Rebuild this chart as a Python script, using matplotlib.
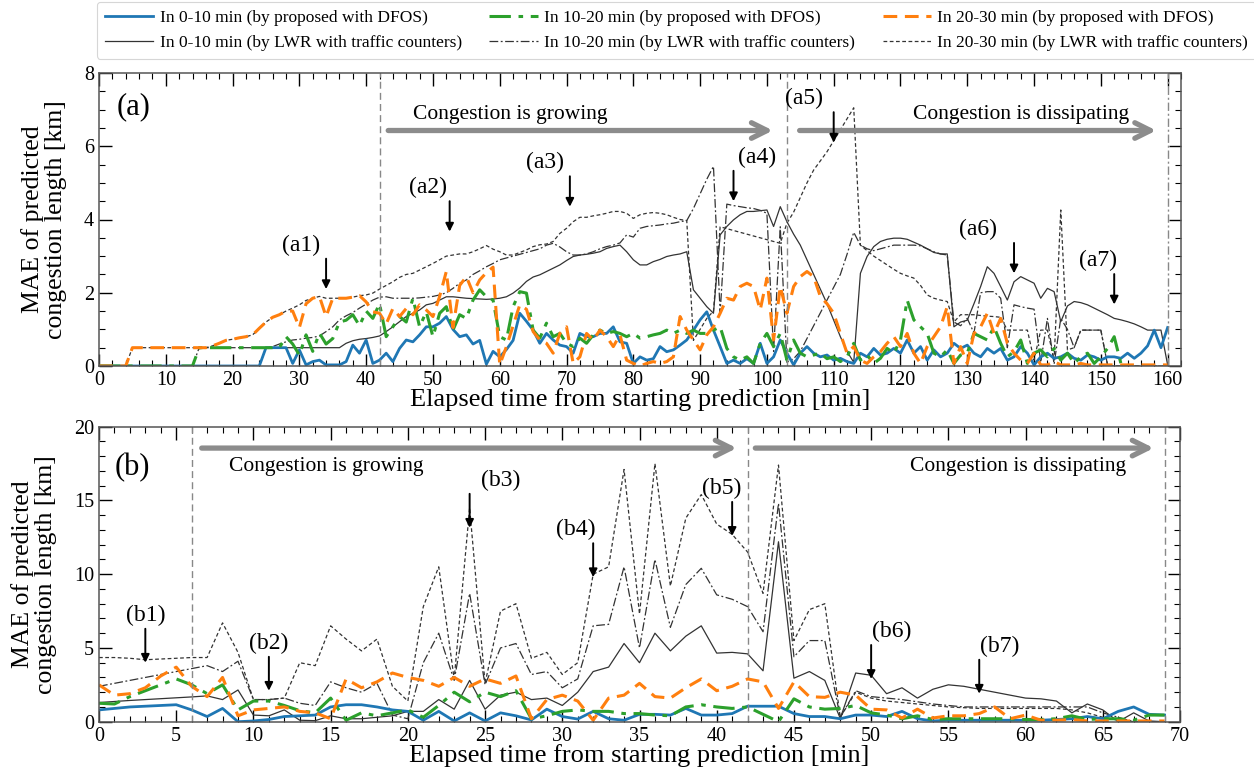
import numpy as np
import matplotlib
matplotlib.use("Agg")
import matplotlib.pyplot as plt
from matplotlib.ticker import MultipleLocator

plt.rcParams['font.family'] = ['Liberation Serif', 'DejaVu Serif']
plt.rcParams['mathtext.fontset'] = 'stix'

nan = np.nan

# ---------------- case (a): 1-min steps, 0..160 min ----------------
t_a = np.arange(0, 161)

dfos_0_10_a = [
    0, 0, 0, 0, 0, 0, 0, 0, 0, 0,
    0, 0, 0, 0, 0, 0, 0, 0, 0, 0,
    0, 0, 0, 0, 0, 0.5, 0.5, 0.5, 0.5, 0.07,
    0.44, 0.03, 0.12, 0.16, 0.03, 0.03, 0.03, 0.12, 0.57, 0.35,
    0.71, 0.07, 0.16, 0.35, 0.12, 0.48, 0.71, 0.66, 0.85, 1.07,
    1.07, 1.17, 1.35, 1.0, 0.8, 0.85, 0.6, 0.7, 0.05, 0.4,
    0.25, 0.45, 0.7, 1.44, 1.22, 0.98, 0.62, 0.89, 0.71, 0.57,
    0.53, 0.35, 0.89, 0.8, 0.8, 0.89, 0.89, 1.07, 0.66, 0.62,
    0.07, 0.25, 0.16, 0.2, 0.53, 0.39, 0.44, 0.57, 0.71, 0.98,
    1.26, 1.48, 0.98, 0.53, 0.07, 0.16, 0.07, 0.2, 0.07, 0.62,
    0.07, 0.25, 0.71, 0.35, 0.03, 0.35, 0.53, 0.35, 0.25, 0.3,
    0.16, 0.21, 0.12, 0.07, 0.35, 0.25, 0.48, 0.3, 0.35, 0.48,
    0.35, 0.71, 0.35, 0.53, 0.16, 0.44, 0.25, 0.35, 0.62, 0.48,
    0.57, 0.35, 0.25, 0.48, 0.35, 0.48, 0.16, 0.25, 0.53, 0.35,
    0.03, 0.25, 0.35, 0.21, 0.25, 0.35, 0.21, 0.16, 0.3, 0.25,
    0.16, 0.25, 0.25, 0.21, 0.35, 0.21, 0.35, 0.55, 0.98, 0.5,
    1.05]

dfos_10_20_a = [
    0, 0, 0, 0, 0, 0, 0, 0, 0, 0,
    0, 0, 0, 0, 0, 0.5, 0.5, 0.5, 0.5, 0.5,
    0.5, 0.5, 0.5, 0.5, 0.5, 0.5, 0.5, 0.5, 0.8, 0.6,
    0.3, 0.85, 0.4, 0.9, 0.6, 0.75, 1.2, 1.25, 1.4, 1.1,
    1.5, 1.3, 1.7, 0.8, 1.07, 1.35, 1.2, 1.85, 1.07, 1.48,
    0.8, 1.44, 1.62, 0.98, 1.4, 1.3, 1.8, 2.08, 1.89, 1.8,
    0.8, 0.71, 1.62, 2.03, 1.99, 0.98, 0.76, 1.17, 0.8, 0.89,
    0.62, 0.53, 0.76, 0.62, 0.85, 0.98, 0.89, 0.94, 0.89, 0.8,
    0.89, 0.76, 0.8, 0.85, 0.89, 0.98, 0.89, 0.98, 0.89, 0.98,
    0.89, 0.89, 0.98, 1.07, 0.48, 0.25, 0.16, 0.25, 0.07, 0.62,
    0.89, 0.53, 0.89, 0.16, 0.71, 0.35, 0.25, 0.3, 0.35, 0.2,
    0.25, 0.12, 0.25, 0.62, 0.16, 0.3, 0.07, 0.21, 0.48, 0.35,
    0.71, 1.8, 1.26, 1.07, 0.89, 0.35, 0.25, 0.44, 0.07, 0.3,
    0.35, 0.89, 0.8, 0.71, 1.07, 0.62, 0.25, 0.39, 0.71, 0.07,
    0.35, 0.44, 0.25, 0.48, 0.16, 0.35, 0.07, 0.25, 0.35, 0.07,
    0.25, 0.48, 0.8, 0.07, nan, nan, nan, nan, nan, nan,
    nan]

dfos_20_30_a = [
    0, 0, 0, 0, 0, 0.5, 0.5, 0.5, 0.5, 0.5,
    0.5, 0.5, 0.5, 0.5, 0.5, 0.5, 0.5, 0.55, 0.62, 0.7,
    0.73, 0.77, 0.8, 0.85, 1.03, 1.2, 1.33, 1.4, 1.5, 1.5,
    1.05, 1.7, 1.85, 1.9, 1.35, 1.85, 1.85, 1.85, 1.88, 1.92,
    1.75, 1.48, 1.44, 1.15, 1.57, 1.35, 1.57, 1.4, 1.67, 1.53,
    1.35, 1.9, 2.58, 1.05, 2.2, 2.44, 2.0, 2.35, 2.55, 2.7,
    0.03, 0.53, 1.1, 1.67, 1.55, 0.94, 0.71, 0.62, 0.35, 0.89,
    1.07, 0.07, 0.25, 0.89, 0.71, 0.98, 0.8, 0.53, 0.85, 0.16,
    0.07, 0.0, 0.07, 0.12, 0.07, 0.12, 0.25, 1.35, 0.98, 0.71,
    0.44, 0.85, 1.07, 1.44, 1.85, 1.8, 2.17, 2.26, 2.17, 1.53,
    2.4, 0.71, 2.17, 1.44, 2.17, 2.44, 2.58, 2.44, 1.9, 1.7,
    1.44, 0.89, 0.35, 0.53, 0.16, 0.07, 0.25, 0.39, 0.62, 0.8,
    0.53, 0.89, 0.35, 0.07, 0.53, 0.8, 1.07, 1.62, 0.07, 0.53,
    0.07, 0.89, 1.07, 1.44, 0.89, 1.3, 0.62, 0.35, 0.16, 0.07,
    0.35, 0.03, 0.03, 0.12, 0.03, 0.03, 0.03, 0.07, 0.03, 0.03,
    0.03, 0.03, 0.03, 0.03, 0.03, 0.03, 0.03, 0.03, 0.03, 0.03,
    0.03]

lwr_0_10_a = [
    0, 0, 0, 0, 0, 0, 0, 0, 0, 0,
    0, 0, 0, 0, 0, 0, 0, 0, 0, 0,
    0, 0, 0, 0, 0, 0.5, 0.5, 0.5, 0.5, 0.5,
    0.5, 0.5, 0.5, 0.5, 0.5, 0.5, 0.5, 0.62, 0.69, 0.73,
    0.75, 0.78, 0.82, 0.94, 1.07, 1.21, 1.35, 1.44, 1.53, 1.67,
    1.71, 1.8, 1.89, 1.89, 1.87, 1.85, 1.84, 1.83, 1.82, 1.83,
    1.85, 1.89, 1.99, 2.13, 2.31, 2.43, 2.49, 2.58, 2.67, 2.76,
    2.88, 2.99, 3.03, 3.05, 3.08, 3.12, 3.21, 3.26, 3.3, 3.12,
    2.9, 2.76, 2.76, 2.85, 2.91, 2.99, 3.03, 3.06, 3.12, 2.08,
    1.85, 1.62, 1.44, 3.58, 3.81, 3.99, 4.13, 4.22, 4.22, 4.24,
    4.26, 3.81, 4.35, 3.94, 3.6, 3.3, 2.9, 2.5, 2.1, 1.7,
    1.25, 0.8, 0.4, 0.1, 2.53, 2.99, 3.26, 3.4, 3.46, 3.49,
    3.49, 3.46, 3.38, 3.3, 3.2, 3.1, 3.06, 3.06, 1.07, 1.2,
    1.25, 1.7, 2.17, 2.71, 2.53, 2.17, 1.8, 2.3, 2.44, 2.35,
    2.26, 1.85, 2.12, 2.03, 1.21, 1.64, 1.76, 1.73, 1.67, 1.58,
    1.49, 1.4, 1.3, 1.26, 1.21, 1.15, 1.07, 0.98, 0.98, 0.98,
    0.03]

lwr_10_20_a = [
    0, 0, 0, 0, 0, 0, 0, 0, 0, 0,
    0, 0, 0, 0, 0, 0.5, 0.5, 0.5, 0.5, 0.5,
    0.5, 0.5, 0.5, 0.5, 0.5, 0.5, 0.53, 0.6, 0.66, 0.71,
    0.73, 0.76, 0.78, 0.82, 0.94, 1.07, 1.26, 1.37, 1.46, 1.58,
    1.69, 1.8, 1.88, 1.89, 1.85, 1.85, 1.85, 1.85, 1.86, 1.88,
    1.9, 1.94, 2.0, 2.12, 2.26, 2.35, 2.5, 2.6, 2.71, 2.8,
    2.9, 2.95, 3.0, 3.05, 3.1, 3.15, 3.2, 3.3, 3.35, 3.25,
    3.12, 3.03, 3.03, 3.06, 3.12, 3.2, 3.26, 3.3, 3.36, 3.58,
    3.52, 3.76, 3.81, 3.83, 3.85, 3.88, 3.9, 3.94, 3.97, 4.3,
    4.7, 5.1, 5.45, 1.45, 4.42, 4.38, 4.35, 4.32, 4.3, 4.25,
    4.17, 0.4, 3.8, 0.1, 0.2, 0.4, 0.75, 1.1, 1.45, 1.8,
    2.15, 2.5, 3.05, 3.65, 3.3, 3.2, 3.15, 3.2, 3.25, 3.3,
    3.3, 3.3, 3.3, 3.28, 3.2, 3.12, 3.06, 3.03, 1.2, 1.1,
    1.3, 0.9, 2.0, 2.03, 2.03, 1.85, 0.5, 1.67, 1.62, 1.58,
    1.55, 0.1, 1.3, 0.05, 1.3, 1.0, 0.5, 0.98, 0.98, 0.98,
    0.98, 0.03, 0, 0, 0, 0, 0, 0, 0, 0,
    0]

lwr_20_30_a = [
    0, 0, 0, 0, 0, 0.5, 0.5, 0.5, 0.5, 0.5,
    0.5, 0.5, 0.5, 0.5, 0.5, 0.5, 0.5, 0.55, 0.62, 0.7,
    0.73, 0.77, 0.8, 0.85, 1.03, 1.2, 1.33, 1.4, 1.5, 1.58,
    1.67, 1.79, 1.85, 1.9, 1.85, 1.85, 1.85, 1.85, 1.88, 1.92,
    1.94, 1.99, 2.1, 2.2, 2.3, 2.42, 2.5, 2.53, 2.62, 2.71,
    2.8, 2.9, 3.0, 3.03, 3.06, 3.06, 3.12, 3.2, 3.29, 3.19,
    3.12, 3.03, 3.03, 3.1, 3.17, 3.26, 3.31, 3.33, 3.4, 3.62,
    3.76, 3.94, 4.06, 4.06, 4.1, 4.13, 4.17, 4.22, 4.22, 4.17,
    4.03, 4.13, 4.17, 4.19, 4.17, 4.13, 4.06, 4.0, 3.97, 0.7,
    1.0, 1.3, 1.5, 3.8, 3.75, 3.7, 3.65, 3.6, 3.55, 3.5,
    3.45, 3.4, 3.35, 3.9, 4.2, 4.6, 5.0, 5.35, 5.6, 5.85,
    6.15, 6.45, 6.75, 7.05, 3.3, 3.15, 3.0, 2.88, 2.76, 2.64,
    2.53, 2.46, 2.4, 2.2, 1.94, 1.85, 1.8, 1.76, 1.2, 1.4,
    1.4, 1.4, 1.38, 1.36, 1.35, 1.33, 0.98, 0.98, 0.98, 0.98,
    0.16, 0.98, 0.98, 0.16, 4.26, 0.44, 0.5, 0.98, 0.98, 0.98,
    0.98, 0.03, 0, 0, 0, 0, 0, 0, 0, 0,
    0]

# ---------------- case (b): 1-min steps, 0..69 min ----------------
t_b = np.arange(0, 70)

dfos_0_10_b = [
    0.8, 0.9, 1.0, 1.05, 1.1, 1.15, 0.8, 0.35, 0.9, 0.0,
    0.05, 0.15, 0.35, 0.4, 0.45, 1.0, 1.15, 1.15, 1.0, 0.8,
    0.7, 0.1, 0.7, 0.05, 0.6, 0.05, 0.6, 0.4, 0.12, 0.85,
    0.35, 0.18, 0.7, 0.2, 0.1, 0.5, 0.5, 0.45, 0.9, 0.45,
    0.45, 0.55, 1.05, 1.05, 1.05, 0.55, 0.35, 0.35, 0.2, 0.45,
    0.45, 0.35, 0.7, 0.2, 0.05, 0.1, 0.1, 0.1, 0.1, 0.1,
    0.1, 0.1, 0.15, 0.2, 0.35, 0.2, 0.7, 1.0, 0.5, 0.45]

dfos_10_20_b = [
    1.25, 1.2, 1.7, 2.1, 2.5, 2.9, 2.5, 1.9, 2.5, 0.8,
    1.4, 1.4, 1.1, 0.75, 0.6, 1.6, 0.1, 0.6, 0.4, 0.6,
    0.8, 0.3, 1.1, 2.0, 1.35, 2.0, 1.7, 2.1, 0.2, 0.4,
    0.7, 0.8, 0.7, 0.7, 0.55, 0.55, 0.45, 0.4, 1.0, 1.15,
    1.0, 0.9, 1.0, 0.5, 0.0, 1.55, 1.0, 0.85, 0.9, 1.1,
    0.6, 0.45, 0.2, 0.4, 0.15, 0.2, 0.2, 0.2, 0.2, 0.2,
    0.15, 0.15, 0.2, 0.4, 0.15, 0.2, 0.2, 0.1, 0.45, 0.45]

dfos_20_30_b = [
    2.5, 1.8, 1.9, 2.3, 3.1, 3.7, 2.4, 1.7, 3.0, 0.4,
    0.8, 0.9, 1.0, 0.7, 0.6, 0.2, 2.9, 2.3, 2.7, 3.3,
    3.0, 2.8, 2.4, 3.0, 2.4, 2.9, 2.6, 3.1, 0.2, 1.5,
    1.8, 1.4, 0.1, 1.6, 1.8, 2.6, 1.7, 1.6, 2.3, 2.9,
    2.1, 2.4, 2.9, 2.7, 0.9, 2.7, 1.7, 1.65, 2.0, 1.8,
    0.85, 0.8, 0.25, 0.85, 0.25, 0.4, 0.4, 0.55, 1.0, 0.2,
    0.45, 0.1, 0.1, 0.15, 0.05, 0.05, 0.05, 0.05, 0.05, 0.05]

lwr_0_10_b = [
    1.3, 1.37, 1.44, 1.5, 1.56, 1.62, 1.68, 1.75, 1.5, 2.15,
    0.45, 0.4, 0.8, 0.1, 0.07, 0.4, 0.2, 0.2, 0.3, 0.4,
    0.7, 0.7, 1.5, 0.85, 2.8, 0.85, 1.8, 2.0, 1.5, 1.6,
    1.1, 2.0, 3.4, 3.7, 5.3, 4.0, 6.0, 4.8, 5.8, 6.5,
    4.65, 4.7, 4.6, 3.45, 12.2, 2.95, 3.4, 2.8, 0.22, 3.3,
    3.15, 1.9, 2.3, 1.6, 2.2, 2.5, 2.4, 2.2, 2.0, 1.8,
    1.6, 1.55, 1.4, 0.6, 1.2, 0.8, 0.0, 0.6, 0.05, 0.0]

lwr_10_20_b = [
    2.4, 2.6, 2.8, 3.0, 3.2, 3.4, 3.6, 3.8, 3.4, 4.1,
    1.5, 1.5, 1.6, 1.25, 1.1, 2.7, 2.3, 2.0, 2.6, 0.45,
    0.2, 4.0, 6.0, 2.8, 8.7, 2.5, 5.0, 5.3, 3.2, 3.4,
    2.3, 2.9, 6.5, 6.6, 10.5, 5.0, 11.0, 6.4, 9.3, 10.4,
    8.6, 8.3, 7.8, 6.1, 14.8, 4.4, 5.5, 5.5, 0.3, 2.1,
    1.7, 1.6, 1.5, 1.35, 1.2, 1.1, 1.0, 1.0, 1.0, 1.0,
    1.0, 1.0, 1.0, 1.0, 1.0, 0.6, 0.3, 0.0, 0.0, 0.0]

lwr_20_30_b = [
    4.35, 4.35, 4.3, 4.2, 4.25, 4.3, 4.35, 4.35, 6.7, 4.7,
    1.5, 1.5, 1.6, 4.0, 3.8, 6.5, 5.6, 4.8, 5.6, 2.4,
    1.4, 7.8, 10.5, 2.9, 14.5, 2.6, 7.5, 8.0, 4.3, 4.7,
    3.2, 4.0, 10.0, 10.5, 17.1, 7.3, 17.5, 9.2, 13.8, 15.4,
    13.4, 12.7, 11.5, 8.7, 17.4, 5.5, 7.6, 8.0, 0.3, 2.0,
    1.6, 1.4, 1.3, 1.2, 1.1, 1.0, 0.95, 0.9, 0.9, 0.9,
    0.9, 0.9, 0.9, 0.8, 0.6, 0.3, 0.1, 0.0, 0.0, 0.0]

legend_labels = [
    "In 0-10 min (by proposed with DFOS)",
    "In 10-20 min (by proposed with DFOS)",
    "In 20-30 min (by proposed with DFOS)",
    "In 0-10 min (by LWR with traffic counters)",
    "In 10-20 min (by LWR with traffic counters)",
    "In 20-30 min (by LWR with traffic counters)",
]

# phase boundaries and callouts
phase_a = [42, 103]
end_a = 160
phase_b = [6, 42]
end_b = 69

marks_a = [("(a1)", 34, 30.2, 3.3), ("(a2)", 52.5, 49.3, 4.87),
           ("(a3)", 70.5, 66.8, 5.55), ("(a4)", 95, 98.5, 5.7),
           ("(a5)", 110, 105.5, 7.3), ("(a6)", 137, 131.6, 3.73),
           ("(a7)", 152, 149.6, 2.88)]
marks_b = [("(b1)", 3, 3.0, 7.2), ("(b2)", 11, 11.0, 5.3),
           ("(b3)", 24, 26.0, 16.35), ("(b4)", 32, 30.9, 13.0),
           ("(b5)", 41, 40.3, 15.8), ("(b6)", 50, 51.3, 6.1),
           ("(b7)", 57, 58.3, 5.1)]

BLUE = "#1f77b4"
GREEN = "#2ca02c"
ORANGE = "#ff7f0e"
DARK = "#333333"

styles = [
    dict(color=BLUE, lw=2.0, ls="-"),
    dict(color=GREEN, lw=2.2, ls=(0, (7, 2.5, 1.5, 2.5))),
    dict(color=ORANGE, lw=2.2, ls=(0, (4.5, 2.5))),
    dict(color=DARK, lw=0.9, ls="-"),
    dict(color=DARK, lw=0.9, ls=(0, (7, 2, 1.5, 2))),
    dict(color=DARK, lw=0.9, ls=(0, (3, 2))),
]


def draw_panel(ax, t, series, ylim, dt_major, dt_minor, dy_major, dy_minor, xlim):
    # black reference lines first, DFOS lines on top
    h = {}
    for i in [3, 4, 5, 0, 1, 2]:
        h[i], = ax.plot(t, series[i], **styles[i])
    ax.set_xlim(*xlim)
    ax.set_ylim(*ylim)
    ax.xaxis.set_major_locator(MultipleLocator(dt_major))
    ax.xaxis.set_minor_locator(MultipleLocator(dt_minor))
    ax.yaxis.set_major_locator(MultipleLocator(dy_major))
    ax.yaxis.set_minor_locator(MultipleLocator(dy_minor))
    ax.tick_params(which="both", direction="in", top=True, right=True,
                   labelsize=14.5)
    ax.tick_params(which="major", length=9, width=1)
    ax.tick_params(which="minor", length=4.5, width=0.8)
    for s in ax.spines.values():
        s.set_color("#555555")
        s.set_linewidth(1.1)
    ax.set_xlabel("Elapsed time from starting prediction [min]", fontsize=19,
                  labelpad=-1)
    ax.set_ylabel("MAE of predicted\ncongestion length [km]", fontsize=18.5,
                  labelpad=12, linespacing=1.1)
    return [h[i] for i in range(6)]


fig = plt.figure(figsize=(12.54, 7.71), dpi=100)
ax_a = fig.add_axes([99 / 1254, 1 - 366 / 771, 1082 / 1254, 293 / 771])
ax_b = fig.add_axes([99 / 1254, 1 - 721.7 / 771, 1081 / 1254, 295 / 771])

handles = draw_panel(ax_a, t_a,
                     [dfos_0_10_a, dfos_10_20_a, dfos_20_30_a,
                      lwr_0_10_a, lwr_10_20_a, lwr_20_30_a],
                     (0, 8), 10, 2, 2, 0.5, (0, 162))
draw_panel(ax_b, t_b,
           [dfos_0_10_b, dfos_10_20_b, dfos_20_30_b,
            lwr_0_10_b, lwr_10_20_b, lwr_20_30_b],
           (0, 20), 5, 1, 5, 1, (0, 70))

# phase separators
for x in phase_a:
    ax_a.axvline(x, color="#888888", lw=1.0, ls=(0, (5, 3)))
ax_a.axvline(end_a, color="#888888", lw=1.0, ls=(0, (6, 2, 1.5, 2)))
for x in phase_b + [end_b]:
    ax_b.axvline(x, color="#888888", lw=1.0, ls=(0, (5, 3)))

# phase arrows
arrow_kw = dict(arrowstyle="->", color="#8c8c8c", lw=3.8, mutation_scale=28,
                shrinkA=0, shrinkB=0)
ax_a.annotate("", xy=(100.9, 6.43), xytext=(43.3, 6.43), arrowprops=arrow_kw)
ax_a.annotate("", xy=(158.3, 6.43), xytext=(104.9, 6.43), arrowprops=arrow_kw)
ax_a.text(61.5, 6.86, "Congestion is growing", fontsize=15.5, ha="center",
          va="center")
ax_a.text(138, 6.86, "Congestion is dissipating", fontsize=15.5, ha="center",
          va="center")

ax_b.annotate("", xy=(41.3, 18.55), xytext=(6.65, 18.55), arrowprops=arrow_kw)
ax_b.annotate("", xy=(68.3, 18.55), xytext=(42.5, 18.55), arrowprops=arrow_kw)
ax_b.text(14.7, 17.3, "Congestion is growing", fontsize=15.5, ha="center",
          va="center")
ax_b.text(59.5, 17.3, "Congestion is dissipating", fontsize=15.5, ha="center",
          va="center")

ax_a.text(2.7, 7.08, "(a)", fontsize=22, ha="left", va="center")
ax_b.text(1.0, 17.2, "(b)", fontsize=22, ha="left", va="center")

# callouts with small down arrows
small_kw = dict(arrowstyle="-|>", color="black", lw=1.4, mutation_scale=12,
                shrinkA=0, shrinkB=0)
for label, xa, xt, yt in marks_a:
    ax_a.annotate("", xy=(xa, yt - 1.2), xytext=(xa, yt - 0.37),
                  arrowprops=small_kw)
    ax_a.text(xt, yt, label, fontsize=17, ha="center", va="center")
for label, xa, xt, yt in marks_b:
    ax_b.annotate("", xy=(xa, yt - 3.2), xytext=(xa, yt - 0.9),
                  arrowprops=small_kw)
    ax_b.text(xt, yt, label, fontsize=17, ha="center", va="center")

# legend laid out row-wise: DFOS on the first row, LWR on the second
leg_order = [0, 3, 1, 4, 2, 5]
leg = fig.legend([handles[i] for i in leg_order],
                 [legend_labels[i] for i in leg_order],
                 ncol=3, loc="upper left",
                 bbox_to_anchor=(97 / 1254, 1 - 2 / 771), fontsize=12.5,
                 handlelength=2.8, columnspacing=1.6, handletextpad=0.35,
                 labelspacing=0.5, borderpad=0.45, borderaxespad=0,
                 frameon=True, fancybox=True)
leg.get_frame().set_edgecolor("#cccccc")
leg.get_frame().set_linewidth(0.8)

fig.savefig("out.png", dpi=100)
